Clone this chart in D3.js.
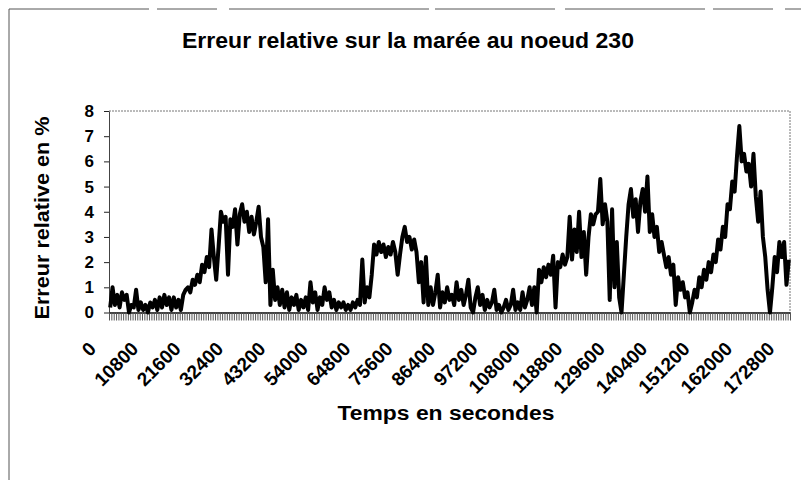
<!DOCTYPE html>
<html>
<head>
<meta charset="utf-8">
<script src="https://cdn.jsdelivr.net/npm/d3@7/dist/d3.min.js"></script>
<style>
  html, body { margin: 0; padding: 0; background: #fff; }
  svg { display: block; }
</style>
</head>
<body>
<script>
// ---- Data ----
const chartTitle = "Erreur relative sur la marée au noeud 230";
const yAxisTitle = "Erreur relative en %";
const xAxisTitle = "Temps en secondes";
const timeStep = 600; // seconds between samples
const tickLabels = ["0","10800","21600","32400","43200","54000","64800","75600","86400",
  "97200","108000","118800","129600","140400","151200","162000","172800"];
const yTicks = [0,1,2,3,4,5,6,7,8];
const errorPct = [
  0.2,1.0,0.3,0.7,0.2,0.8,0.5,0.7,0.0,0.3,
  0.2,0.9,0.1,0.4,0.1,0.3,0.0,0.4,0.2,0.5,
  0.1,0.6,0.2,0.7,0.3,0.6,0.1,0.6,0.2,0.5,
  0.1,0.7,0.9,1.0,0.8,1.3,1.1,1.5,1.2,1.9,
  1.6,2.2,1.8,3.3,2.2,1.3,2.6,4.0,3.6,3.8,
  1.5,3.7,3.4,4.1,2.7,3.9,4.3,3.6,4.0,3.2,
  3.8,3.1,3.6,4.2,3.0,2.6,1.2,3.7,0.3,1.7,
  0.5,1.0,0.3,0.9,0.2,0.8,0.1,0.6,0.3,0.7,
  0.1,0.5,0.2,0.6,0.1,1.2,0.4,0.8,0.1,0.6,
  0.3,1.0,0.5,0.8,0.2,0.5,0.1,0.4,0.2,0.4,
  0.1,0.3,0.1,0.4,0.2,0.5,0.3,2.1,0.4,1.0,
  0.6,1.5,2.7,2.3,2.8,2.4,2.7,2.2,2.6,2.3,
  2.8,2.4,1.5,2.3,3.0,3.4,2.8,3.0,2.5,2.9,
  2.4,1.2,2.0,0.4,2.2,0.3,1.0,0.3,0.8,1.5,
  0.2,0.8,0.4,1.0,0.5,0.7,0.3,1.2,0.5,0.9,
  0.3,0.7,1.3,0.2,0.0,0.6,1.0,0.3,0.7,0.1,
  0.5,0.2,0.4,0.9,0.1,0.3,0.0,0.2,0.5,0.1,
  0.3,0.9,0.1,0.4,0.1,0.8,0.2,0.5,1.0,0.3,
  1.0,0.0,1.7,1.2,1.8,1.4,1.9,1.5,2.25,0.2,
  2.0,1.8,2.3,1.9,2.2,3.8,2.1,3.3,2.4,4.0,
  2.2,3.2,1.5,3.0,3.9,3.5,3.9,4.0,5.3,3.5,
  4.3,3.6,0.5,4.1,1.0,2.8,0.6,0.0,1.5,3.0,
  4.3,4.9,3.8,4.5,3.2,4.4,4.9,4.0,5.4,3.2,
  3.9,3.0,3.4,2.4,2.8,2.3,1.8,2.2,1.5,1.9,
  0.3,1.4,0.9,1.2,0.6,0.8,0.0,0.4,0.9,0.6,
  1.4,1.0,1.7,1.3,2.0,1.6,2.3,2.0,2.9,2.5,
  3.4,3.0,4.3,4.1,5.2,4.8,6.2,7.4,6.0,6.3,
  5.6,5.9,5.0,6.3,4.6,3.6,4.8,3.0,2.2,0.9,
  0.0,1.0,2.2,1.6,2.8,2.2,2.8,1.1,2.1
];
const timesSec = errorPct.map((_, i) => i * timeStep);

// ---- Layout ----
const W = 801, H = 480;
const plot = { left: 109, right: 790, top: 111, bottom: 312.5 };
const font = "'Liberation Sans', Arial, sans-serif";

const svg = d3.select("body").append("svg")
  .attr("width", W).attr("height", H)
  .style("font-family", font).style("font-weight", "bold");

svg.append("rect").attr("width", W).attr("height", H).attr("fill", "#fff");

// outer chart frame (top and left visible)
svg.append("line").attr("x1", 9).attr("x2", W).attr("y1", 9).attr("y2", 9)
  .attr("stroke", "#555").attr("stroke-width", 1).attr("stroke-dasharray", "140,8,60,12,200,6,120,10");
svg.append("line").attr("x1", 9).attr("x2", 9).attr("y1", 9).attr("y2", H)
  .attr("stroke", "#555").attr("stroke-width", 1);

const x = d3.scaleBand().domain(timesSec).range([plot.left, plot.right]).padding(0);
const bw = x.bandwidth();
const y = d3.scaleLinear().domain([0, 8]).range([plot.bottom, plot.top]);

// plot area border (top & right, gray dotted)
svg.append("path")
  .attr("d", `M${plot.left},${plot.top}H${plot.right}V${plot.bottom}`)
  .attr("fill", "none").attr("stroke", "#777").attr("stroke-width", 1)
  .attr("stroke-dasharray", "2,1");

// Y axis
const yAxis = d3.axisLeft(y).tickValues(yTicks).tickSize(5).tickSizeOuter(0).tickFormat(d3.format("d"));
const gy = svg.append("g").attr("transform", `translate(${plot.left},0)`).call(yAxis);
gy.select(".domain").attr("stroke", "#444");
gy.selectAll(".tick line").attr("stroke", "#222");
gy.selectAll(".tick text").attr("x", -15).attr("font-size", 17).attr("font-weight", "bold")
  .attr("font-family", font).attr("fill", "#000");

// X axis: dense tick marks at every category boundary
const boundaries = d3.range(errorPct.length + 1);
const xb = d3.scaleLinear().domain([0, errorPct.length]).range([plot.left, plot.right]);
const gxTicks = svg.append("g").attr("transform", `translate(0,${plot.bottom})`)
  .call(d3.axisBottom(xb).tickValues(boundaries).tickSize(8).tickSizeOuter(0).tickFormat(""));
gxTicks.select(".domain").attr("stroke", "#000").attr("stroke-width", 1.5);
gxTicks.selectAll(".tick line").attr("stroke", "#555").attr("stroke-width", 1);

// X axis labels every 18 samples (10800 s)
const gxl = svg.append("g");
gxl.selectAll("text").data(tickLabels).join("text")
  .attr("transform", (t) => `translate(${x(+t) + bw / 2 - 13},350) rotate(-45)`)
  .attr("text-anchor", "end")
  .attr("font-size", 19)
  .attr("fill", "#000")
  .text((t) => t);

// Series line
const line = d3.line()
  .x((d, i) => x(timesSec[i]) + bw / 2)
  .y((d) => y(d));
svg.append("path").datum(errorPct)
  .attr("d", line)
  .attr("fill", "none").attr("stroke", "#000")
  .attr("stroke-width", 4).attr("stroke-linejoin", "round");

// Titles
svg.append("text").attr("x", 408).attr("y", 48).attr("text-anchor", "middle")
  .attr("font-size", 22).attr("textLength", 452).attr("lengthAdjust", "spacingAndGlyphs")
  .text(chartTitle);
svg.append("text").attr("transform", "translate(49,218) rotate(-90)")
  .attr("text-anchor", "middle").attr("font-size", 20)
  .attr("textLength", 203).attr("lengthAdjust", "spacingAndGlyphs")
  .text(yAxisTitle);
svg.append("text").attr("x", 446).attr("y", 420).attr("text-anchor", "middle")
  .attr("font-size", 20).attr("textLength", 217).attr("lengthAdjust", "spacingAndGlyphs")
  .text(xAxisTitle);
</script>
</body>
</html>
